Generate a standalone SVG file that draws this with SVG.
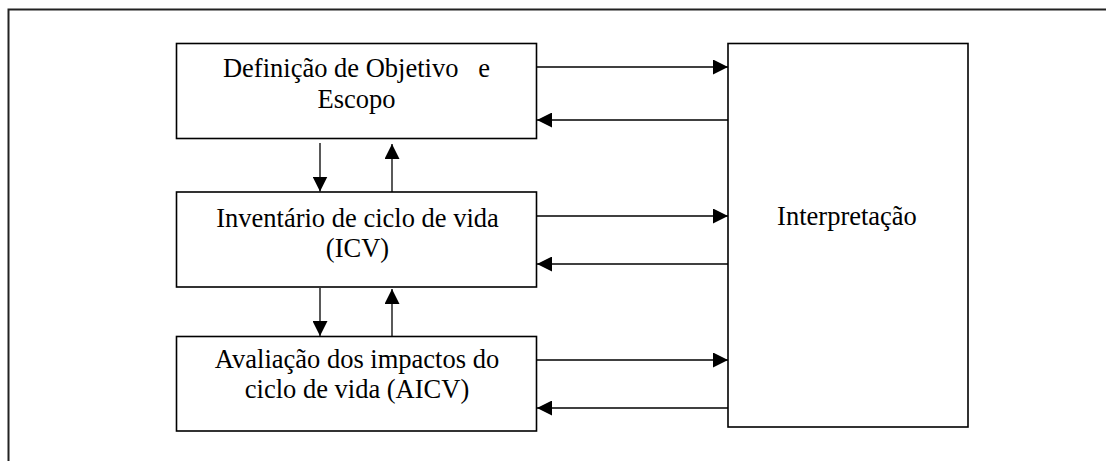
<svg xmlns="http://www.w3.org/2000/svg" width="1106" height="461" viewBox="0 0 1106 461">
<style>
.box{fill:#fff;stroke:#000;stroke-width:1.6}
.lbl{font-family:"Liberation Serif","Times New Roman",serif;font-size:26.5px;fill:#000;text-anchor:middle;white-space:pre}
.con{stroke:#000;stroke-width:1.3;fill:none;marker-end:url(#ah)}
</style>
<defs>
<marker id="ah" viewBox="0 0 15 15" refX="15" refY="7.5" markerWidth="15" markerHeight="15" markerUnits="userSpaceOnUse" orient="auto">
<path d="M0,0 L15,7.5 L0,15 z" fill="#000"/>
</marker>
</defs>
<rect width="1106" height="461" fill="#fff"/>
<path d="M8.5,461 V9.5 H1106" fill="none" stroke="#222" stroke-width="2"/>
<g id="objetivo">
<rect class="box" x="176.5" y="43.5" width="360" height="95"/>
<text class="lbl" x="356.5" y="77" xml:space="preserve">Definição de Objetivo   e</text>
<text class="lbl" x="356.5" y="108">Escopo</text>
</g>
<g id="icv">
<rect class="box" x="176.5" y="192" width="360" height="95"/>
<text class="lbl" x="357.5" y="227">Inventário de ciclo de vida</text>
<text class="lbl" x="357.5" y="257">(ICV)</text>
</g>
<g id="aicv">
<rect class="box" x="176.5" y="336.5" width="360" height="94.5"/>
<text class="lbl" x="357" y="368">Avaliação dos impactos do</text>
<text class="lbl" x="357" y="398">ciclo de vida (AICV)</text>
</g>
<g id="interpretacao">
<rect class="box" x="728" y="43.5" width="240" height="383.5"/>
<text class="lbl" x="847" y="225">Interpretação</text>
</g>
<g id="connectors">
<line class="con" x1="537" y1="67" x2="728" y2="67"/>
<line class="con" x1="728" y1="120" x2="537" y2="120"/>
<line class="con" x1="537" y1="216" x2="728" y2="216"/>
<line class="con" x1="728" y1="264" x2="537" y2="264"/>
<line class="con" x1="537" y1="360" x2="728" y2="360"/>
<line class="con" x1="728" y1="408" x2="537" y2="408"/>
<line class="con" x1="320" y1="143" x2="320" y2="191.5"/>
<line class="con" x1="392" y1="192" x2="392" y2="144"/>
<line class="con" x1="320" y1="288" x2="320" y2="336"/>
<line class="con" x1="392" y1="336.5" x2="392" y2="289"/>
</g>
</svg>
